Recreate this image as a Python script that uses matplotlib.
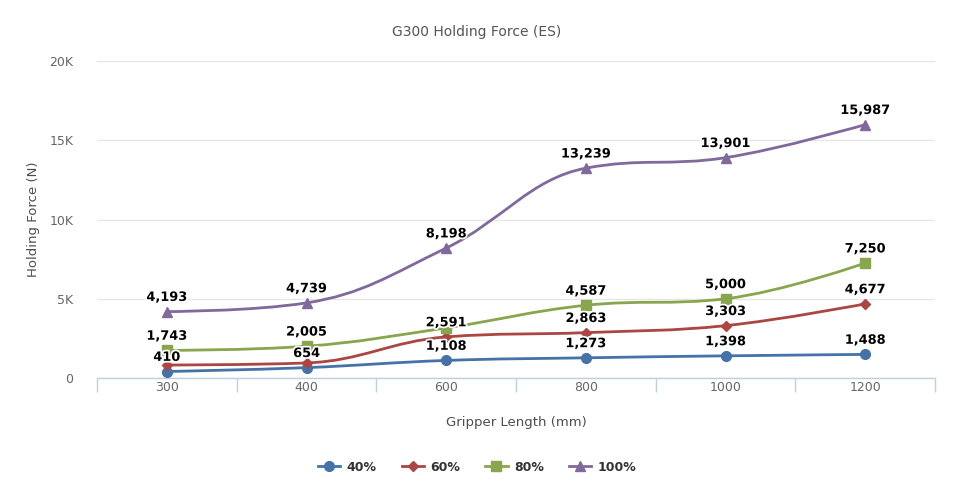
import matplotlib
matplotlib.use("Agg")
import matplotlib.pyplot as plt
from matplotlib.path import Path
from matplotlib.patches import PathPatch
import matplotlib.patheffects as pe

categories = ["300", "400", "600", "800", "1000", "1200"]
series_names = ["40%", "60%", "80%", "100%"]
s40 = [410, 654, 1108, 1273, 1398, 1488]
s60 = [820, 950, 2591, 2863, 3303, 4677]
s80 = [1743, 2005, 3160, 4587, 5000, 7250]
s100 = [4193, 4739, 8198, 13239, 13901, 15987]
y_ticks = [0, 5000, 10000, 15000, 20000]
y_tick_labels = ["0", "5K", "10K", "15K", "20K"]
hidden_labels = {("60%", 0), ("60%", 1), ("80%", 2)}

colors = ["#4572A7", "#AA4643", "#89A54E", "#80699B"]
markers = ["o", "D", "s", "^"]
msizes = [7, 5.5, 7, 7.5]
all_series = [s40, s60, s80, s100]


def spline_path(xs, ys, smoothing=1.5):
    denom = smoothing + 1
    n = len(xs)
    rc = [None] * n
    lc = [None] * n
    for i in range(n):
        px, py = xs[i], ys[i]
        if 0 < i < n - 1:
            lx, ly = xs[i - 1], ys[i - 1]
            nx, ny = xs[i + 1], ys[i + 1]
            lcx = (smoothing * px + lx) / denom
            lcy = (smoothing * py + ly) / denom
            rcx = (smoothing * px + nx) / denom
            rcy = (smoothing * py + ny) / denom
            corr = 0
            if rcx != lcx:
                corr = ((rcy - lcy) * (rcx - px)) / (rcx - lcx) + py - rcy
            lcy += corr
            rcy += corr
            if lcy > ly and lcy > py:
                lcy = max(ly, py); rcy = 2 * py - lcy
            elif lcy < ly and lcy < py:
                lcy = min(ly, py); rcy = 2 * py - lcy
            if rcy > ny and rcy > py:
                rcy = max(ny, py); lcy = 2 * py - rcy
            elif rcy < ny and rcy < py:
                rcy = min(ny, py); lcy = 2 * py - rcy
            lc[i] = (lcx, lcy)
            rc[i] = (rcx, rcy)
    verts = [(xs[0], ys[0])]
    codes = [Path.MOVETO]
    for i in range(1, n):
        c1 = rc[i - 1] if rc[i - 1] else (xs[i - 1], ys[i - 1])
        c2 = lc[i] if lc[i] else (xs[i], ys[i])
        verts += [c1, c2, (xs[i], ys[i])]
        codes += [Path.CURVE4] * 3
    return Path(verts, codes)


fig = plt.figure(figsize=(9.77, 4.9), dpi=100)
W, H = 977, 490
ax = fig.add_axes([97 / W, (H - 378) / H, (935 - 97) / W, (378 - 61) / H])

x = list(range(len(categories)))
for name, vals, col, mk, ms in zip(series_names, all_series, colors, markers, msizes):
    p = spline_path(x, vals)
    ax.add_patch(PathPatch(p, facecolor="none", edgecolor=col, lw=2, zorder=3))
    ax.plot(x, vals, linestyle="none", marker=mk, color=col, markersize=ms,
            zorder=4, label=name)
    for i, v in enumerate(vals):
        if (name, i) in hidden_labels:
            continue
        ax.annotate(f"{v:,}", (i, v), xytext=(0, 5.5), textcoords="offset points",
                    ha="center", va="bottom", fontsize=9.3, fontweight="bold",
                    color="black", zorder=5,
                    path_effects=[pe.withStroke(linewidth=2.5, foreground="white")])

ax.set_xlim(-0.5, len(categories) - 0.5)
ax.set_ylim(0, 20000)
ax.set_yticks(y_ticks)
ax.set_yticklabels(y_tick_labels)
ax.set_xticks(x)
ax.set_xticklabels(categories)
ax.set_xticks([i - 0.5 for i in range(len(categories) + 1)], minor=True)
ax.tick_params(axis="x", which="major", length=0, pad=2, labelsize=9, labelcolor="#666666")
ax.tick_params(axis="x", which="minor", length=10, color="#C0D0E0", width=1)
ax.tick_params(axis="y", length=0, pad=17, labelsize=9, labelcolor="#666666")
ax.grid(axis="y", color="#E6E6E6", lw=1)
ax.set_axisbelow(True)
for s in ["top", "right", "left"]:
    ax.spines[s].set_visible(False)
ax.spines["bottom"].set_color("#C0D0E0")
ax.spines["bottom"].set_linewidth(1)

ax.set_ylabel("Holding Force (N)", fontsize=9.5, color="#4D4D4D", labelpad=7)
ax.set_xlabel("Gripper Length (mm)", fontsize=9.5, color="#4D4D4D", labelpad=14)
fig.text(477 / W, 1 - 32 / H, "G300 Holding Force (ES)", ha="center", va="center",
         fontsize=10, color="#555555")

leg = fig.legend(loc="center", bbox_to_anchor=(477 / W, 1 - 467 / H), ncol=4,
                 frameon=False, handlelength=1.8, columnspacing=2.0,
                 handletextpad=0.5, prop={"weight": "bold", "size": 9})
for h in leg.legend_handles:
    h.set_linestyle("-")
    h.set_linewidth(2)
for t in leg.get_texts():
    t.set_color("#333333")

fig.savefig("out.png", dpi=100)
